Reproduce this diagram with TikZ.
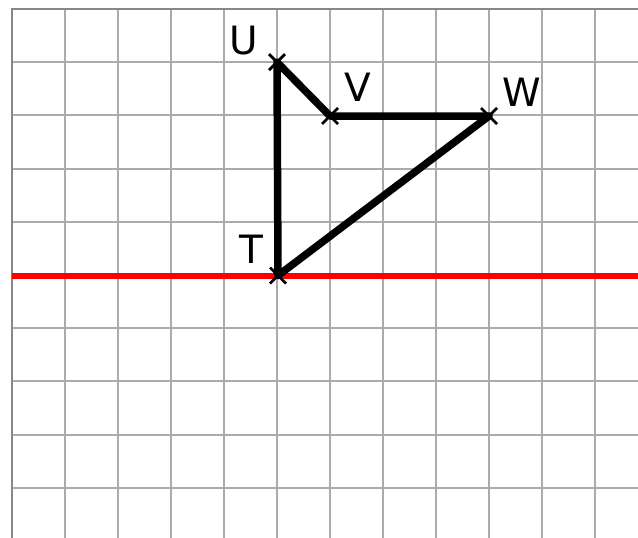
\documentclass[tikz,border=0pt]{standalone}
\usepackage{fontspec}
\setmainfont{DejaVu Sans}
\begin{document}
\begin{tikzpicture}[x=1pt,y=-1pt,
  gridline/.style={draw=black!33,line width=2pt},
  gridedge/.style={draw=black!47,line width=2.5pt},
  axisline/.style={draw=red,line width=6pt},
  edgeline/.style={draw=black,line width=7.5pt,line join=round},
  crossmark/.style={draw=black,line width=2.8pt},
  ptlabel/.style={inner sep=0pt,font=\fontsize{39}{40}\selectfont}]
\useasboundingbox (0,0) rectangle (638,538);
\fill[white] (0,0) rectangle (638,538);
% grid
\foreach \i in {1,...,11} \draw[gridline] ({12+53*\i},9) -- ({12+53*\i},538);
\foreach \j in {1,...,9} \draw[gridline] (12,{9+53.2*\j}) -- (638,{9+53.2*\j});
\draw[gridedge] (12,538) -- (12,9) -- (638,9);
% points
\coordinate (U) at (277,62.2);
\coordinate (V) at (330,116);
\coordinate (W) at (489,116);
\coordinate (T) at (278,275.5);
\coordinate (L) at (12,275.5);
\coordinate (R) at (638,275.5);
% red line
\draw[axisline] (L) -- (R);
% triangle
\draw[edgeline] (U) -- (V) -- (W) -- (T) -- cycle;
% crosses
\foreach \p in {U,V,W,T} {
  \draw[crossmark] ([shift={(-8,-8)}]\p) -- ([shift={(8,8)}]\p);
  \draw[crossmark] ([shift={(-8,8)}]\p) -- ([shift={(8,-8)}]\p);
}
% labels
\node[ptlabel] (lu) at (244,41) {U};
\node[ptlabel] (lv) at (358,87) {V};
\node[ptlabel] (lw) at (522,92) {W};
\node[ptlabel] (lt) at (251,249) {T};
\end{tikzpicture}
\end{document}
